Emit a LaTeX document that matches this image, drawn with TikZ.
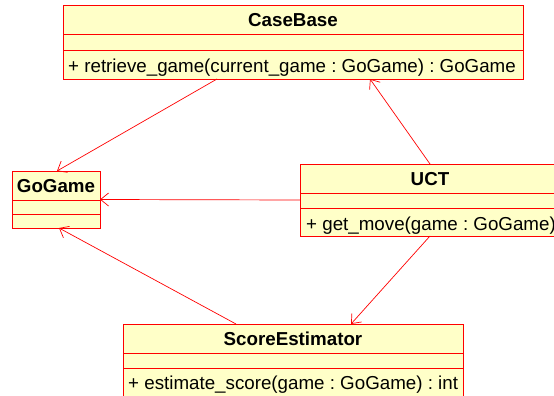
\documentclass[tikz,border=0pt]{standalone}
\usepackage{fontspec}
\setmainfont{Liberation Sans}
\usetikzlibrary{arrows.meta}
\definecolor{umlred}{RGB}{255,0,0}
\definecolor{umlfill}{RGB}{255,255,200}
\frenchspacing
\begin{document}
\begin{tikzpicture}[x=1pt,y=-1pt,
  classbox/.style={draw=umlred, fill=umlfill, line width=1pt, inner sep=0pt, outer sep=0pt, rectangle},
  cname/.style={font=\fontsize{18.75}{21}\selectfont\bfseries, anchor=base, inner sep=0pt},
  cmeth/.style={font=\fontsize{18.75}{21}\selectfont, anchor=base west, inner sep=0pt},
  assoc/.style={draw=umlred, line width=0.7pt, -{Straight Barb[length=8pt,width=13pt,line width=0.7pt]}},
  compsep/.style={draw=umlred, line width=1pt}]
\useasboundingbox (0,0) rectangle (554,396);
\clip (0,0) rectangle (554,396);
\fill[white] (0,0) rectangle (554,396);

% CaseBase
\node[classbox, minimum width=460pt, minimum height=73pt] (casebase) at (293,42.5) {};
\draw[compsep] (63,35) -- (523,35);
\draw[compsep] (63,51) -- (523,51);
\node[cname] (casebasename) at (293,27) {CaseBase};
\node[cmeth] (casebasemeth) at (68,73) {+ retrieve\_game(current\_game : GoGame) : GoGame};

% GoGame
\node[classbox, minimum width=88pt, minimum height=57pt] (gogame) at (56,199.5) {};
\draw[compsep] (12,200) -- (100,200);
\draw[compsep] (12,214) -- (100,214);
\node[cname] (gogamename) at (56,192) {GoGame};

% UCT
\node[classbox, minimum width=260pt, minimum height=72pt] (uct) at (430,200) {};
\draw[compsep] (300,193) -- (560,193);
\draw[compsep] (300,208) -- (560,208);
\node[cname] (uctname) at (430,185) {UCT};
\node[cmeth] (uctmeth) at (306,230) {+ get\_move(game : GoGame)};

% ScoreEstimator
\node[classbox, minimum width=340pt, minimum height=74pt] (se) at (293,361) {};
\draw[compsep] (123,353) -- (463,353);
\draw[compsep] (123,368) -- (463,368);
\node[cname] (sename) at (293,345) {ScoreEstimator};
\node[cmeth] (semeth) at (128,389) {+ estimate\_score(game : GoGame) : int};

% connectors
\draw[assoc] ([xshift=154pt]casebase.south west) -- ([xshift=45pt]gogame.north west);
\draw[assoc] (uct.west) -- (gogame.east);
\draw[assoc] (uct.north) -- ([xshift=307pt]casebase.south west);
\draw[assoc] (uct.south) -- ([xshift=228pt]se.north west);
\draw[assoc] ([xshift=113pt]se.north west) -- ([xshift=47pt]gogame.south west);
\end{tikzpicture}
\end{document}
